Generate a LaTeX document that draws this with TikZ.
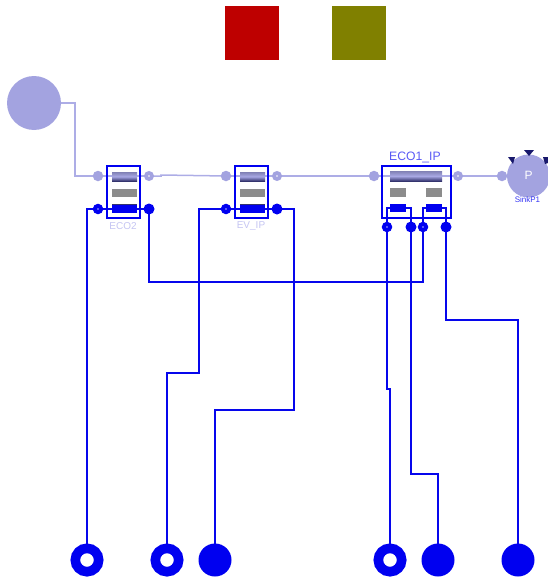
\documentclass[tikz,border=0pt]{standalone}
\usepackage{fontspec}
\setmainfont{Liberation Sans}
\usetikzlibrary{backgrounds,calc}
\definecolor{lav}{HTML}{A3A3E0}
\definecolor{lavline}{HTML}{ADADE6}
\definecolor{lavtext}{HTML}{C4C4F2}
\definecolor{pblue}{HTML}{0000F0}
\definecolor{lineblue}{HTML}{0606EC}
\definecolor{barg}{HTML}{8C8C8C}
\definecolor{bartop}{HTML}{8080B4}
\definecolor{barhi}{HTML}{A8A8E4}
\definecolor{bardark}{HTML}{34346E}
\definecolor{tri}{HTML}{18186C}
\tikzset{
  every node/.style={inner sep=0pt,outer sep=0pt},
  lport/.style={circle,fill=lav,minimum size=10.5pt},
  lopen/.style={circle,draw=lav,fill=white,line width=3.8pt,minimum size=6pt},
  bopen/.style={circle,draw=pblue,fill=white,line width=4.2pt,minimum size=6pt},
  bfill/.style={circle,fill=pblue,minimum size=11pt},
  bigopen/.style={circle,draw=pblue,fill=white,line width=9.6pt,minimum size=23.4pt},
  bigfill/.style={circle,fill=pblue,minimum size=33pt},
  lconn/.style={draw=lavline,line width=1.5pt},
  bconn/.style={draw=lineblue,line width=1.6pt},
  comp/.style={draw=pblue,line width=1.5pt},
  graybar/.style={fill=barg},
  tube/.style={top color=bartop,bottom color=bardark,middle color=barhi},
  bluebar/.style={fill=pblue},
  darkedge/.style={fill=bardark},
  lbl/.style={font=\fontsize{10}{10}\selectfont,text=lavtext}
}
\begin{document}
\begin{tikzpicture}[x=1pt,y=-1pt]
\useasboundingbox (0,0) rectangle (548,578);
% colour squares
\fill[fill={rgb,255:red,190;green,0;blue,0}] (225,6) rectangle (279,60);
\fill[fill={rgb,255:red,128;green,128;blue,0}] (332,6) rectangle (386,60);
% source
\node[circle,fill=lav,minimum size=54pt] (src) at (34,103) {};
% ECO2 bars
\fill[tube] (112,172) rectangle (137,181);
\fill[graybar] (112,189) rectangle (137,197);
\fill[bluebar] (112,204) rectangle (137,213);
\fill[darkedge] (112,204) rectangle (137,205);
\node[comp,minimum width=33pt,minimum height=52pt] (eco2) at (123.5,192) {};
\node[lbl,anchor=center] (eco2l) at (123,226.5) {ECO2};
% EV_IP bars
\fill[tube] (240,172) rectangle (265,181);
\fill[graybar] (240,189) rectangle (265,197);
\fill[bluebar] (240,204) rectangle (265,213);
\fill[darkedge] (240,204) rectangle (265,205);
\node[comp,minimum width=33pt,minimum height=52pt] (ev) at (251.5,192) {};
\node[lbl,anchor=center] (evl) at (251,226.5) {EV\_IP};
% ECO1_IP bars
\fill[tube] (390,171) rectangle (442,181);
\fill[graybar] (390,188) rectangle (406,197);
\fill[graybar] (426,188) rectangle (442,197);
\fill[bluebar] (390,204) rectangle (406,212);
\fill[bluebar] (426,204) rectangle (442,212);
\node[comp,minimum width=69pt,minimum height=52pt] (eco1) at (416.5,192) {};
\node[anchor=center,text=pblue!65!white,font=\fontsize{12.2}{12.2}\selectfont] (eco1l) at (415,157) {ECO1\_IP};
% sink
\node[circle,fill=lav,minimum size=43pt] (sink) at (528.5,176) {};
\node[text=white,font=\fontsize{12}{12}\selectfont] (sinkp) at (528.5,175) {P};
\node[font=\fontsize{8}{8}\selectfont,text=pblue!80!white] (sinkl) at (527.5,199.5) {SinkP1};
\fill[fill=tri] (524,150) -- (534,150) -- (529,156) -- cycle;
\fill[fill=tri] (508,157) -- (515,157) -- (513,164) -- cycle;
\fill[fill=tri] (543,157) -- (548,157) -- (548,163) -- (545,164) -- cycle;
% light ports
\node[lport] (a1) at (98,176) {};
\node[lopen] (a2) at (149,176) {};
\node[lport] (b1) at (226,176) {};
\node[lopen] (b2) at (277,176) {};
\node[lport] (c1) at (374,176) {};
\node[lopen] (c2) at (458,176) {};
\node[lport] (d1) at (502,176) {};
% blue ports
\node[bopen] (p1) at (98,209) {};
\node[bfill] (p2) at (149,209) {};
\node[bopen] (p3) at (226,209) {};
\node[bfill] (p4) at (277,209) {};
\node[bopen] (p5) at (387,227) {};
\node[bfill] (p6) at (411,227) {};
\node[bopen] (p7) at (423,227) {};
\node[bfill] (p8) at (446,227) {};
% bottom ports
\node[bigopen] (q1) at (87,560) {};
\node[bigopen] (q2) at (167,560) {};
\node[bigfill] (q3) at (215,560) {};
\node[bigopen] (q4) at (390,560) {};
\node[bigfill] (q5) at (438,560) {};
\node[bigfill] (q6) at (518,560) {};
% connectors
\begin{scope}[on background layer]
\draw[lconn] (src.center) -- (75,103) -- (75,176) -- (a1.center);
\draw[lconn] (a1.center) -- (a2.center);
\draw[lconn] (a2.center) -- (161,176) -- (161,175) -- (b1.center);
\draw[lconn] (b1.center) -- (b2.center);
\draw[lconn] (b2.center) -- (c1.center);
\draw[lconn] (c1.center) -- (c2.center);
\draw[lconn] (c2.center) -- (d1.center);
\draw[bconn] (p1.center) -- (p2.center);
\draw[bconn] (p3.center) -- (p4.center);
\draw[bconn] (p5.center) -- (387,208) -- (390,208);
\draw[bconn] (p6.center) -- (411,208) -- (406,208);
\draw[bconn] (p7.center) -- (423,208) -- (426,208);
\draw[bconn] (p8.center) -- (446,208) -- (442,208);
\draw[bconn] (p1.center) -- (87,209) -- (q1.center);
\draw[bconn] (p2.center) -- (149,282) -- (423,282) -- (p7.center);
\draw[bconn] (p3.center) -- (199,209) -- (199,373) -- (167,373) -- (q2.center);
\draw[bconn] (p4.center) -- (294,209) -- (294,410) -- (215,410) -- (q3.center);
\draw[bconn] (p5.center) -- (387,389) -- (390,389) -- (q4.center);
\draw[bconn] (p6.center) -- (411,474) -- (438,474) -- (q5.center);
\draw[bconn] (p8.center) -- (446,320) -- (518,320) -- (q6.center);
\end{scope}
\end{tikzpicture}
\end{document}
